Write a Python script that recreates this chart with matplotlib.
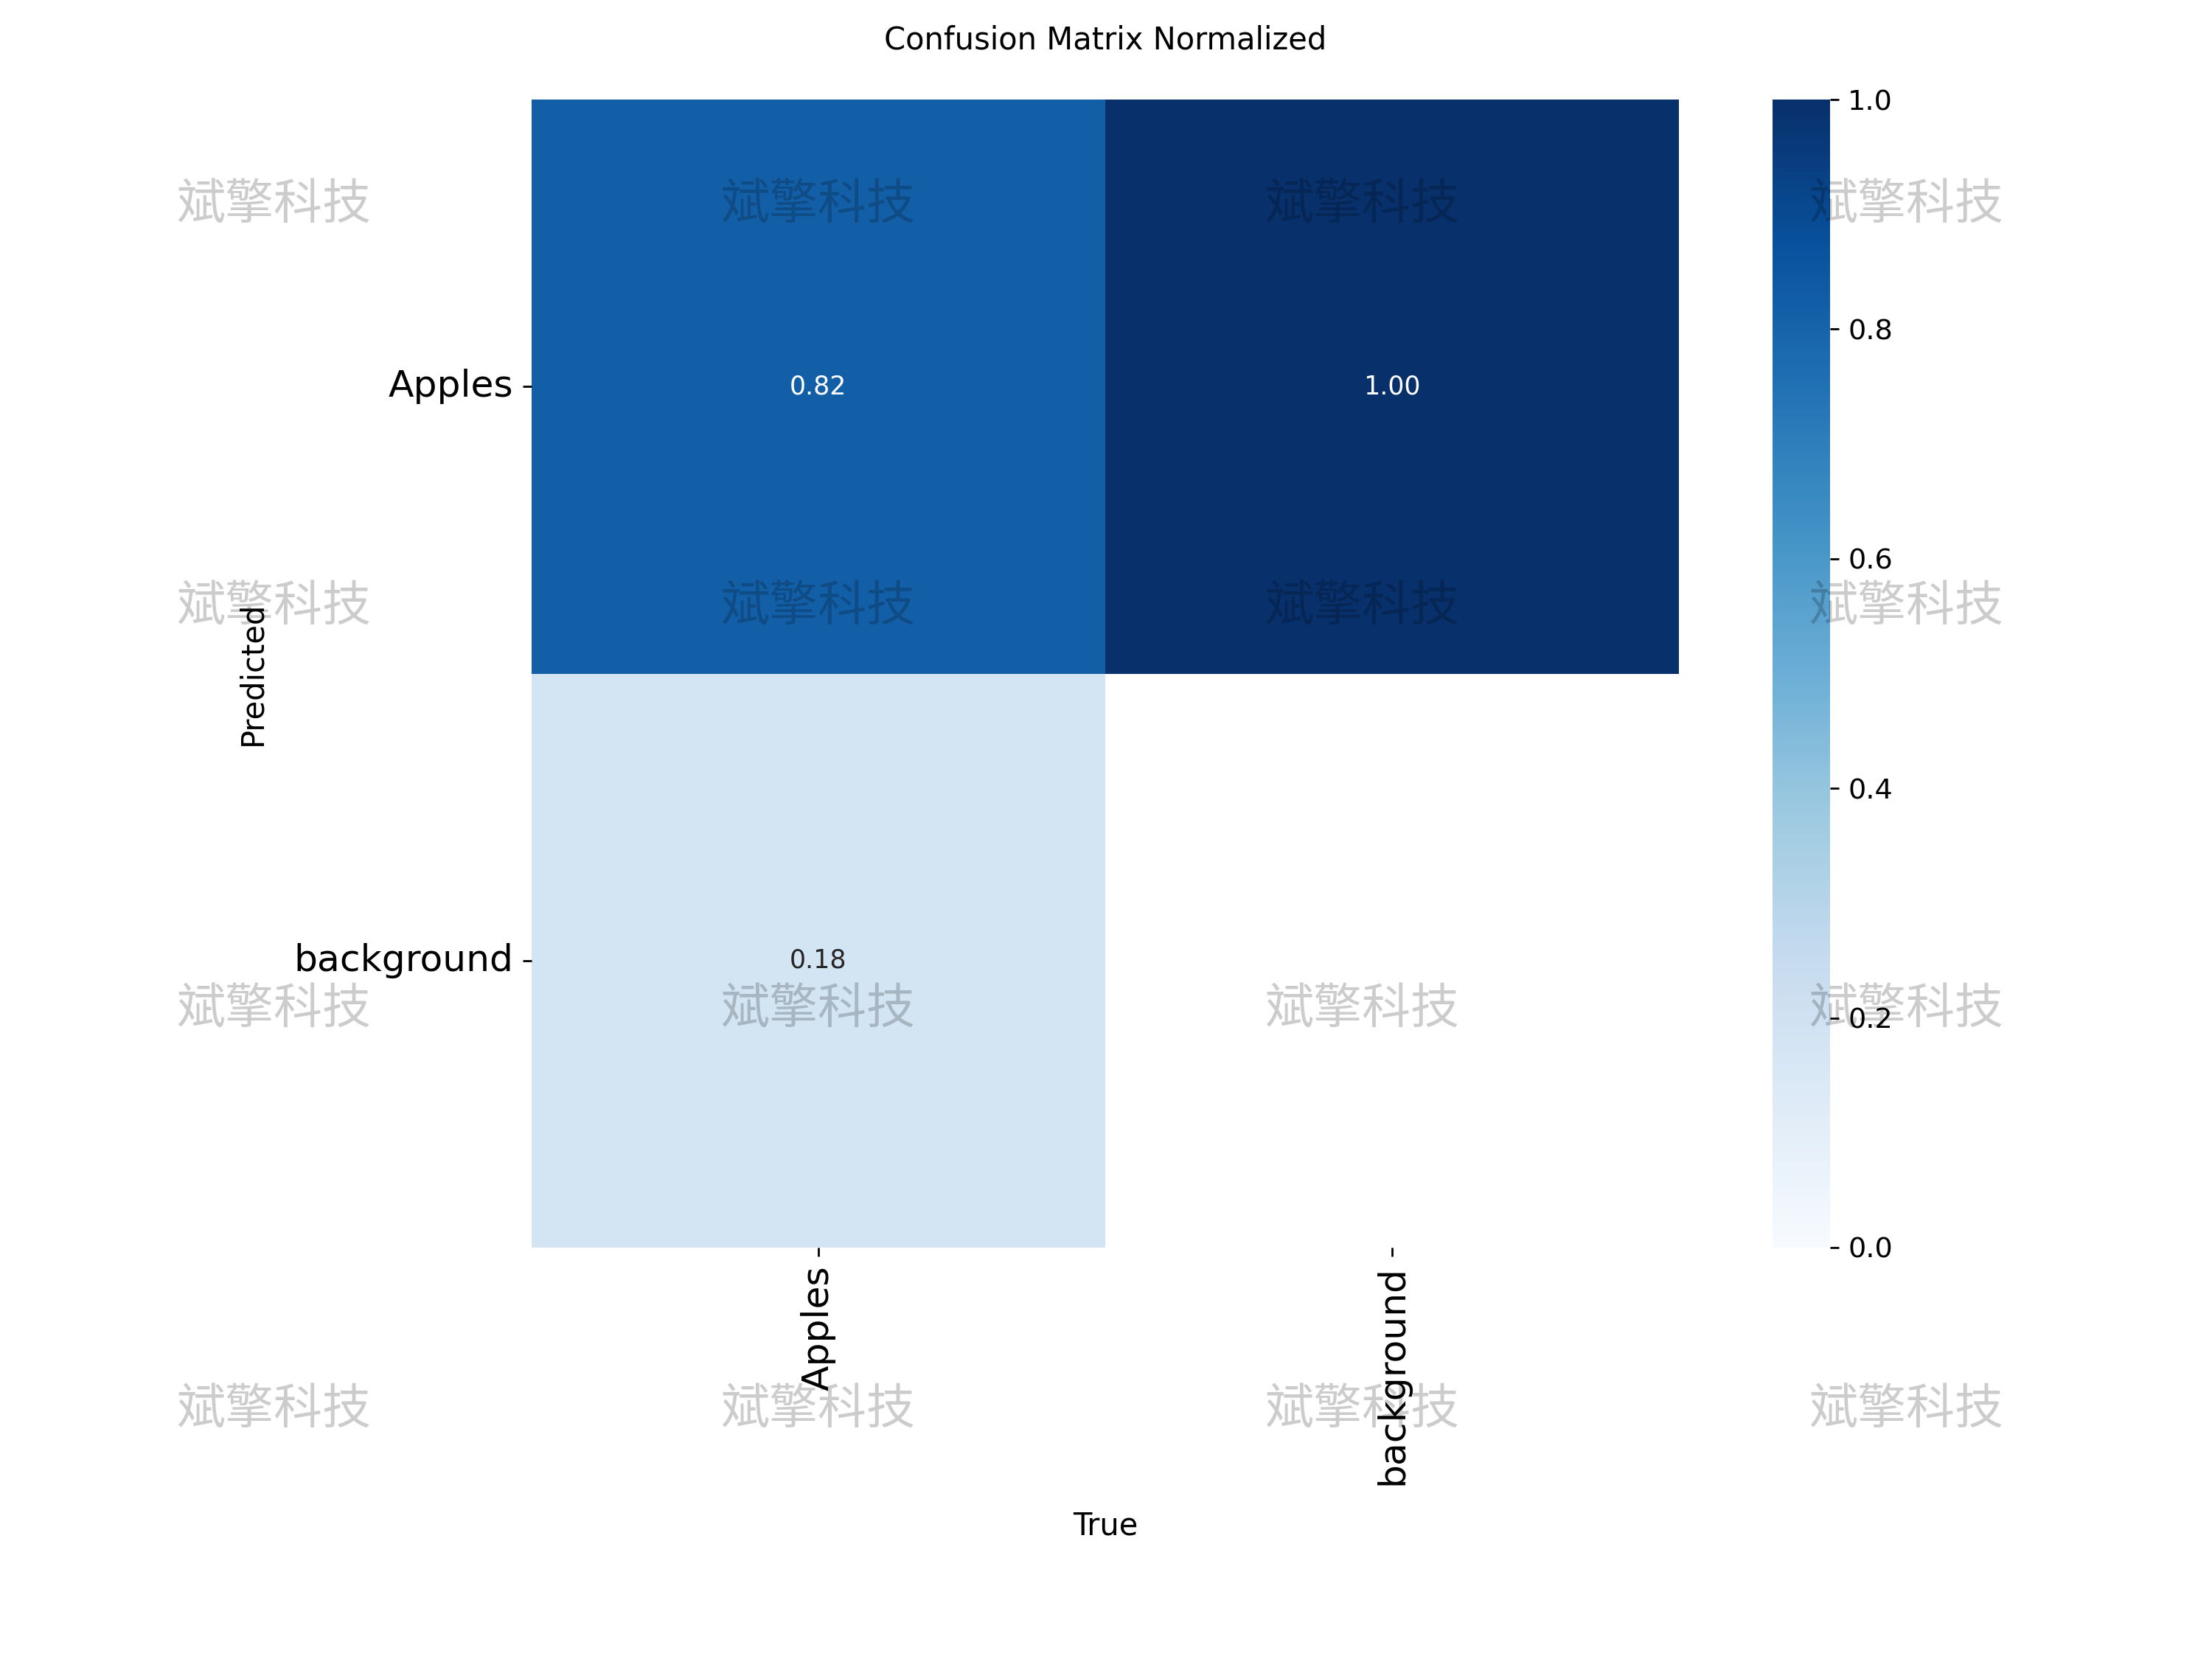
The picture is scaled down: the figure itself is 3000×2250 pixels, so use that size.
import numpy as np
import matplotlib
matplotlib.use('Agg')
import matplotlib.pyplot as plt
import seaborn as sns

# Normalized confusion matrix (rows = predicted, columns = true)
class_names = ['Apples', 'background']
matrix = np.array([[0.82, 1.00],
                   [0.18, 0.00]])
watermark = '斌擎科技'

# hide cells that are (close to) zero, like the original plot
shown = matrix.copy()
shown[shown < 0.005] = np.nan

fig = plt.figure(figsize=(12, 9), dpi=250)
ax = fig.add_axes([0.2403, 0.248, 0.5187, 0.692])
cax = fig.add_axes([0.8013, 0.248, 0.026, 0.692])

sns.heatmap(shown, ax=ax, cbar_ax=cax, annot=True, fmt='.2f',
            annot_kws={'size': 10}, cmap='Blues', vmin=0.0, vmax=1.0,
            xticklabels=class_names, yticklabels=class_names)
ax.set_facecolor((1, 1, 1))

ax.set_xticklabels(class_names, rotation=90, fontsize=14.5)
ax.set_yticklabels(class_names, rotation=0, fontsize=14.5)
ax.tick_params(axis='both', length=3.5, width=0.8)

ax.set_xlabel('True', fontsize=12)
ax.set_ylabel('Predicted', fontsize=12)
ax.xaxis.set_label_coords(0.5, -0.229)
ax.yaxis.set_label_coords(-0.230, 0.5)
ax.set_title('Confusion Matrix Normalized', fontsize=12, pad=19.6)

cax.set_yticks([0.0, 0.2, 0.4, 0.6, 0.8, 1.0])
cax.tick_params(labelsize=11, length=3.5, width=0.8)

# tiled watermark over the whole figure
wm_x = [0.1237, 0.3697, 0.6157, 0.8617]
wm_y = [0.8764, 0.6344, 0.3914, 0.1504]
for yy in wm_y:
    for xx in wm_x:
        fig.text(xx, yy, watermark, fontsize=19, color='black', alpha=0.2,
                 ha='center', va='center',
                 family=['Noto Sans CJK SC', 'DejaVu Sans'], zorder=10)

fig.savefig('out.png', dpi=250)
